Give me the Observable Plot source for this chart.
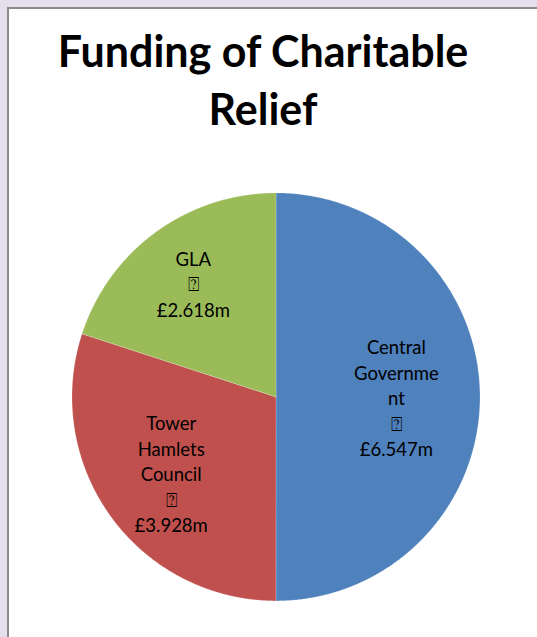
<!DOCTYPE html>
<html>
<head>
<meta charset="utf-8">
<script src="https://cdn.jsdelivr.net/npm/d3@7"></script>
<script src="https://cdn.jsdelivr.net/npm/@observablehq/plot@0.6"></script>
<style>
  html, body { margin: 0; padding: 0; }
  body { width: 537px; height: 637px; background: #e4dfec; position: relative; overflow: hidden; }
  #panel { position: absolute; left: 7px; top: 7px; width: 560px; height: 660px; background: #fff;
           border-left: 2px solid #8a8a8a; border-top: 2px solid #8a8a8a; }
  #title { position: absolute; left: 0; width: 526px; top: 22px; text-align: center;
           font-family: Lato, "Open Sans", sans-serif; font-weight: 700; font-size: 43px; line-height: 58px; color: #000; }
  #chart { position: absolute; left: 0; top: 0; }
</style>
</head>
<body>
<div id="panel"></div>
<div id="title">Funding of Charitable<br>Relief</div>
<div id="chart"></div>
<script>
// Data
const categories = ["Central Government", "Tower Hamlets Council", "GLA"];
const values = [6.547, 3.928, 2.618];
const labels = ["Central\nGovernme\nnt\n\u2370\n£6.547m", "Tower\nHamlets\nCouncil\n\u2370\n£3.928m", "GLA\n\u2370\n£2.618m"];
const colors = ["#4f81bd", "#c0504d", "#9bbb59"];

// Layout: label distance from centre (fraction of radius) per slice
const labelRadius = [0.59, 0.635, 0.69];

// Build slice outlines from the data (clockwise from 12 o'clock)
const pie = d3.pie().sort(null).value(d => d)(values);
const outline = [];
const labelPos = [];
pie.forEach((p, i) => {
  const cat = categories[i];
  outline.push({cat, x: 0, y: 0});
  const n = Math.max(2, Math.ceil((p.endAngle - p.startAngle) / (Math.PI / 720)));
  for (let k = 0; k <= n; k++) {
    const a = p.startAngle + (p.endAngle - p.startAngle) * k / n;
    outline.push({cat, x: Math.sin(a), y: Math.cos(a)});
  }
  outline.push({cat, x: 0, y: 0});
  const m = (p.startAngle + p.endAngle) / 2;
  labelPos.push({cat, label: labels[i], x: labelRadius[i] * Math.sin(m), y: labelRadius[i] * Math.cos(m)});
});

const chart = Plot.plot({
  width: 537,
  height: 637,
  margin: 0,
  style: {background: "transparent", overflow: "visible"},
  x: {domain: [-1, 1], range: [71.5, 479.5], axis: null},
  y: {domain: [-1, 1], range: [600.4, 192.4], axis: null},
  color: {domain: categories, range: colors},
  marks: [
    Plot.line(outline, {x: "x", y: "y", z: "cat", fill: "cat", stroke: "#ffffff", strokeWidth: 0.6, strokeOpacity: 0.35, curve: "linear"}),
    Plot.text(labelPos, {x: "x", y: "y", text: "label", fill: "#000", fontSize: 18.5,
      fontFamily: "Lato, 'Open Sans', sans-serif", lineHeight: 1.38, textAnchor: "middle", frameAnchor: "middle"})
  ]
});
document.getElementById("chart").appendChild(chart);
</script>
</body>
</html>
